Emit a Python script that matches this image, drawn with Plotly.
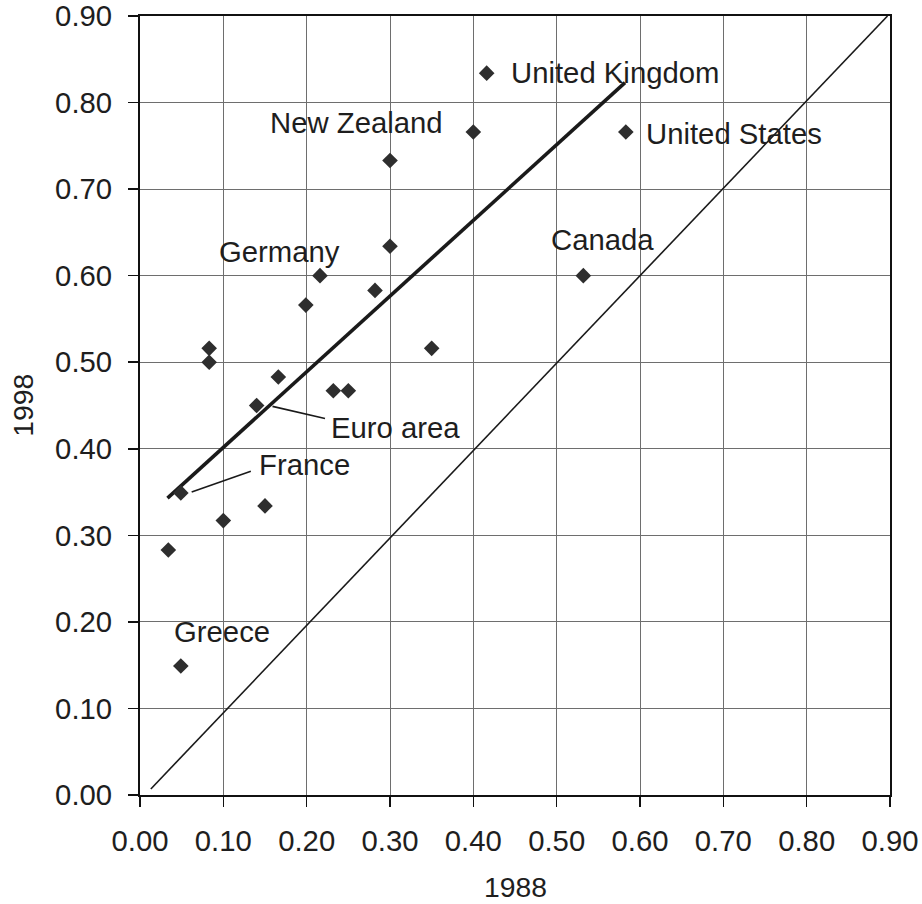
import plotly.graph_objects as go

# Scatter data (1988 on x, 1998 on y)
x1988 = [0.416, 0.400, 0.583, 0.300, 0.300, 0.532, 0.216, 0.199, 0.282,
         0.083, 0.083, 0.350, 0.166, 0.232, 0.250, 0.140, 0.049, 0.150,
         0.100, 0.034, 0.049]
y1998 = [0.834, 0.766, 0.766, 0.733, 0.634, 0.600, 0.600, 0.566, 0.583,
         0.516, 0.500, 0.516, 0.483, 0.467, 0.467, 0.450, 0.349, 0.334,
         0.317, 0.283, 0.149]

# Regression line and 45-degree line
trend_x = [0.033, 0.582]
trend_y = [0.343, 0.823]
diag_x = [0.013, 0.897]
diag_y = [0.007, 0.900]

# Labels
label_text = ["United Kingdom", "New Zealand", "United States", "Germany",
              "Canada", "Euro area", "France", "Greece"]
label_x = [0.443, 0.154, 0.605, 0.092, 0.491, 0.227, 0.140, 0.038]
label_y = [0.835, 0.777, 0.764, 0.628, 0.642, 0.425, 0.382, 0.189]

# Leader lines
leader_x0 = [0.159, 0.062]
leader_y0 = [0.449, 0.350]
leader_x1 = [0.222, 0.133]
leader_y1 = [0.435, 0.374]

tick_vals = [0.0, 0.1, 0.2, 0.3, 0.4, 0.5, 0.6, 0.7, 0.8, 0.9]
tick_text = ["0.00", "0.10", "0.20", "0.30", "0.40", "0.50", "0.60", "0.70", "0.80", "0.90"]

FONT = "Arial, Liberation Sans, sans-serif"
FS = 29.3
TXT = "#1e1e1e"

fig = go.Figure()
fig.add_trace(go.Scatter(x=diag_x, y=diag_y, mode="lines",
                         line=dict(color="#1a1a1a", width=1.6), hoverinfo="skip"))
fig.add_trace(go.Scatter(x=trend_x, y=trend_y, mode="lines",
                         line=dict(color="#1a1a1a", width=3.6), hoverinfo="skip"))
fig.add_trace(go.Scatter(x=x1988, y=y1998, mode="markers",
                         marker=dict(symbol="diamond", size=12, color="#2e2e2e")))

for i in range(len(leader_x0)):
    fig.add_shape(type="line", xref="x", yref="y",
                  x0=leader_x0[i], y0=leader_y0[i], x1=leader_x1[i], y1=leader_y1[i],
                  line=dict(color="#1a1a1a", width=1.6))

for t, lx, ly in zip(label_text, label_x, label_y):
    fig.add_annotation(x=lx, y=ly, xref="x", yref="y", text=t, showarrow=False,
                       xanchor="left", yanchor="middle",
                       font=dict(family=FONT, size=FS, color=TXT))

fig.add_annotation(x=-0.157, y=0.5, xref="paper", yref="paper", text="1998",
                   showarrow=False, textangle=-90, xanchor="center", yanchor="middle",
                   font=dict(family=FONT, size=FS - 1, color=TXT))
fig.add_annotation(x=0.5, y=-0.118, xref="paper", yref="paper", text="1988",
                   showarrow=False, xanchor="center", yanchor="middle",
                   font=dict(family=FONT, size=FS - 1, color=TXT))

axis_common = dict(range=[0, 0.9], tickvals=tick_vals, ticktext=tick_text,
                   showgrid=True, gridcolor="#6e6e6e", gridwidth=1,
                   showline=True, linecolor="#111111", linewidth=2, mirror=True,
                   ticks="outside", ticklen=10, tickcolor="#111111", tickwidth=1.5,
                   zeroline=False, automargin=False, ticklabeloverflow="allow",
                   tickfont=dict(family=FONT, size=FS, color=TXT))

fig.update_xaxes(**axis_common, ticklabelstandoff=9)
fig.update_yaxes(**axis_common, ticklabelstandoff=10)

fig.update_layout(width=922, height=904,
                  margin=dict(l=140, r=32, t=16, b=109),
                  plot_bgcolor="white", paper_bgcolor="white",
                  showlegend=False, hovermode=False)

fig.write_html("out.html",
               config={"displayModeBar": False, "staticPlot": True},
               post_script="document.body.style.margin='0';document.body.style.overflow='hidden';")
